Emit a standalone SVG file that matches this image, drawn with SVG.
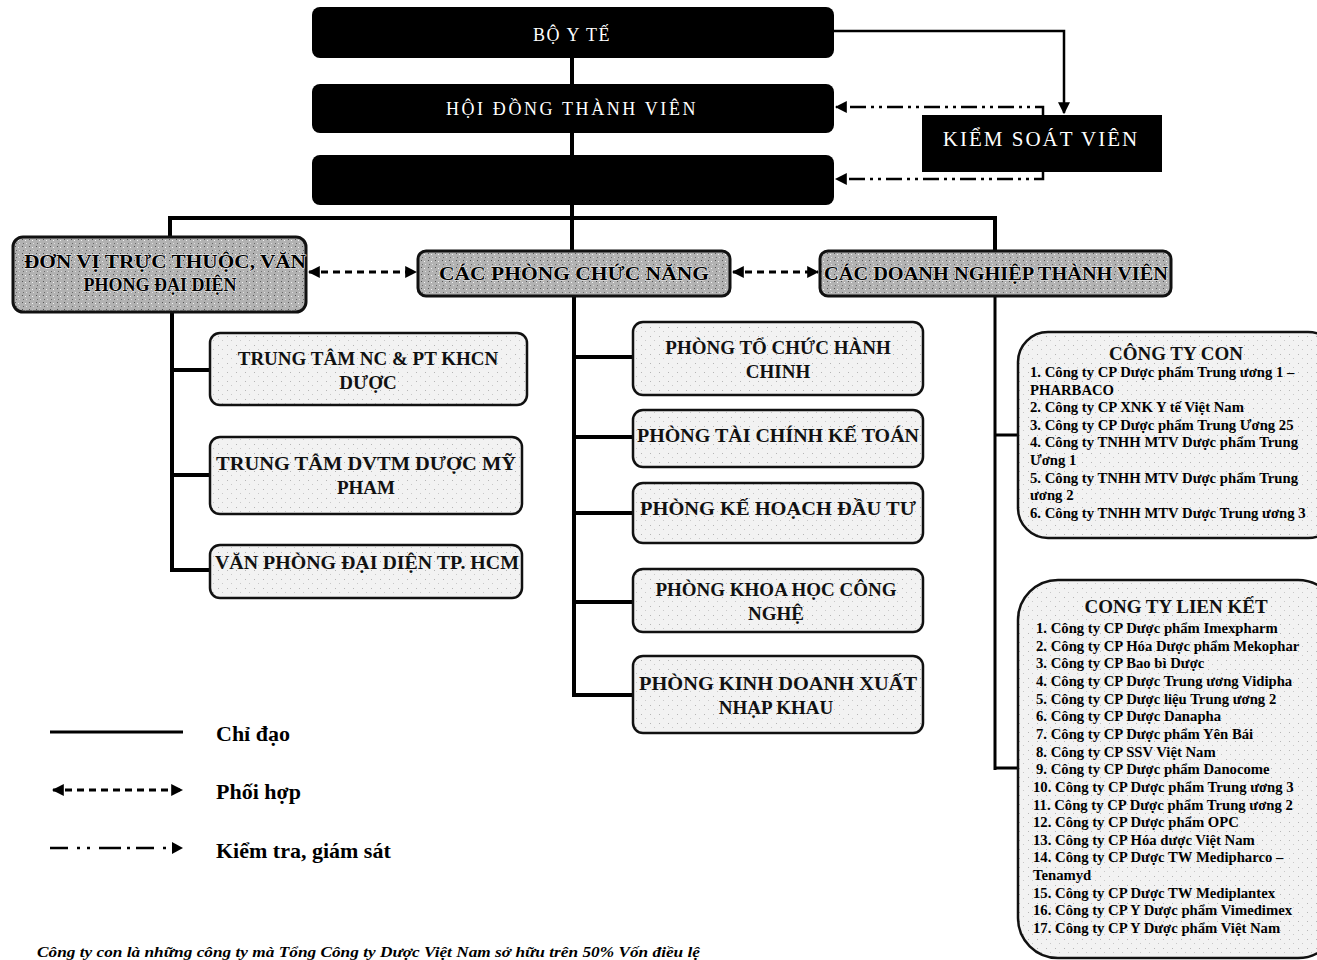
<svg xmlns="http://www.w3.org/2000/svg" width="1317" height="960" viewBox="0 0 1317 960">
<style>
.blk{fill:#000}
.wt{fill:#fff;font-family:"Liberation Serif","DejaVu Serif",serif;font-size:18px;letter-spacing:1.5px;text-anchor:middle}
.hdr{stroke:#111;stroke-width:3;fill:url(#hdrPat)}
.ht{font-family:"Liberation Serif","DejaVu Serif",serif;font-weight:bold;font-size:18px;fill:#000;stroke:#eee;stroke-width:1px;paint-order:stroke;text-anchor:middle}
.chd{stroke:#111;stroke-width:2.5;fill:url(#chdPat)}
.ct{font-family:"Liberation Serif","DejaVu Serif",serif;font-weight:bold;font-size:19px;fill:#111;text-anchor:middle}
.lst{font-family:"Liberation Serif","DejaVu Serif",serif;font-weight:bold;font-size:14.7px;fill:#000}
.ttl{font-family:"Liberation Serif","DejaVu Serif",serif;font-weight:bold;font-size:19px;fill:#111;text-anchor:middle}
.solid{fill:none;stroke:#000;stroke-width:4}
.thin{fill:none;stroke:#000;stroke-width:2.5}
.dash{fill:none;stroke:#000;stroke-width:3;stroke-dasharray:7 5}
.dd{fill:none;stroke:#000;stroke-width:2.5;stroke-dasharray:16 5 3 5 3 5}
.leg{font-family:"Liberation Serif","DejaVu Serif",serif;font-weight:bold;font-size:22px;fill:#000}
</style>
<defs>
<pattern id="hdrPat" width="7" height="7" patternUnits="userSpaceOnUse">
<rect width="7" height="7" fill="#b2b2b2"/>
<rect x="1" y="1" width="1" height="1" fill="#555"/>
<rect x="4" y="2" width="1" height="1" fill="#f4f4f4"/>
<rect x="2" y="5" width="1" height="1" fill="#6a6a6a"/>
<rect x="5" y="5" width="1" height="1" fill="#e0e0e0"/>
</pattern>
<pattern id="chdPat" width="9" height="9" patternUnits="userSpaceOnUse">
<rect width="9" height="9" fill="#f2f2f2"/>
<rect x="2" y="3" width="1" height="1" fill="#b5b5b5"/>
<rect x="6" y="7" width="1" height="1" fill="#c8c8c8"/>
</pattern>
<marker id="tri" viewBox="0 0 10 10" refX="9" refY="5" markerWidth="12" markerHeight="12" markerUnits="userSpaceOnUse" orient="auto-start-reverse">
<path d="M0,0 L10,5 L0,10 z" fill="#000"/>
</marker>
</defs>

<g id="connectors">
<path class="solid" d="M572,58 V84 M572,133 V155 M572,205 V218 M170,218 H996 M170,216 V237 M572,218 V251 M995,216 V251"/>
<path class="solid" d="M172,312 V572 M170,370 H210 M170,475 H210 M170,570 H210"/>
<path class="solid" d="M574,296 V697 M572,357 H633 M572,437 H633 M572,513 H633 M572,602 H633 M572,695 H633"/>
<path class="thin" d="M995,296 V770 M994,435 H1018 M994,768 H1018" style="stroke-width:3"/>
<path class="thin" d="M834,31 H1064 V113" marker-end="url(#tri)"/>
<path class="dd" d="M1043,115 V107 H836" marker-end="url(#tri)"/>
<path class="dd" d="M1043,172 V179 H836" marker-end="url(#tri)"/>
<path class="dash" d="M309,272 H416" marker-start="url(#tri)" marker-end="url(#tri)"/>
<path class="dash" d="M733,272 H818" marker-start="url(#tri)" marker-end="url(#tri)"/>
</g>

<g id="bo-y-te">
<rect class="blk" x="312" y="7" width="522" height="51" rx="8"/>
<text class="wt" x="572" y="41">BỘ Y TẾ</text>
</g>
<g id="hoi-dong-thanh-vien">
<rect class="blk" x="312" y="84" width="522" height="49" rx="8"/>
<text class="wt" x="572" y="115" style="letter-spacing:2.6px">HỘI ĐỒNG THÀNH VIÊN</text>
</g>
<g id="ban-dieu-hanh">
<rect class="blk" x="312" y="155" width="522" height="50" rx="8"/>
</g>
<g id="kiem-soat-vien">
<rect class="blk" x="922" y="115" width="240" height="57"/>
<text class="wt" x="1041" y="146" style="font-size:21px;letter-spacing:2px">KIỂM SOÁT VIÊN</text>
</g>

<g id="don-vi-truc-thuoc">
<rect class="hdr" x="13" y="237" width="293" height="75" rx="10"/>
<text class="ht" x="165" y="268" textLength="282" lengthAdjust="spacingAndGlyphs">ĐƠN VỊ TRỰC THUỘC, VĂN</text>
<text class="ht" x="160" y="291">PHONG ĐẠI DIỆN</text>
</g>
<g id="cac-phong-chuc-nang">
<rect class="hdr" x="418" y="251" width="312" height="45" rx="8"/>
<text class="ht" x="574" y="280" textLength="270" lengthAdjust="spacingAndGlyphs">CÁC PHÒNG CHỨC NĂNG</text>
</g>
<g id="cac-doanh-nghiep">
<rect class="hdr" x="820" y="251" width="351" height="45" rx="8"/>
<text class="ht" x="996" y="280" textLength="344" lengthAdjust="spacingAndGlyphs">CÁC DOANH NGHIỆP THÀNH VIÊN</text>
</g>

<g id="trung-tam-nc">
<rect class="chd" x="210" y="333" width="317" height="72" rx="10"/>
<text class="ct" x="368" y="365">TRUNG TÂM NC &amp; PT KHCN</text>
<text class="ct" x="368" y="389">DƯỢC</text>
</g>
<g id="trung-tam-dvtm">
<rect class="chd" x="210" y="437" width="312" height="77" rx="10"/>
<text class="ct" x="366" y="470" textLength="300" lengthAdjust="spacingAndGlyphs">TRUNG TÂM DVTM DƯỢC MỸ</text>
<text class="ct" x="366" y="494">PHAM</text>
</g>
<g id="van-phong-hcm">
<rect class="chd" x="210" y="545" width="312" height="53" rx="10"/>
<text class="ct" x="367" y="569" textLength="304" lengthAdjust="spacingAndGlyphs">VĂN PHÒNG ĐẠI DIỆN TP. HCM</text>
</g>

<g id="phong-to-chuc">
<rect class="chd" x="633" y="322" width="290" height="73" rx="10"/>
<text class="ct" x="778" y="354">PHÒNG TỔ CHỨC HÀNH</text>
<text class="ct" x="778" y="378">CHINH</text>
</g>
<g id="phong-tai-chinh">
<rect class="chd" x="633" y="410" width="290" height="57" rx="10"/>
<text class="ct" x="778" y="442" textLength="282" lengthAdjust="spacingAndGlyphs">PHÒNG TÀI CHÍNH KẾ TOÁN</text>
</g>
<g id="phong-ke-hoach">
<rect class="chd" x="633" y="483" width="290" height="60" rx="10"/>
<text class="ct" x="778" y="515" textLength="276" lengthAdjust="spacingAndGlyphs">PHÒNG KẾ HOẠCH ĐẦU TƯ</text>
</g>
<g id="phong-khoa-hoc">
<rect class="chd" x="633" y="569" width="290" height="63" rx="10"/>
<text class="ct" x="776" y="596">PHÒNG KHOA HỌC CÔNG</text>
<text class="ct" x="776" y="620">NGHỆ</text>
</g>
<g id="phong-kinh-doanh">
<rect class="chd" x="633" y="656" width="290" height="77" rx="10"/>
<text class="ct" x="778" y="690" textLength="278" lengthAdjust="spacingAndGlyphs">PHÒNG KINH DOANH XUẤT</text>
<text class="ct" x="776" y="714">NHẠP KHAU</text>
</g>

<g id="cong-ty-con">
<rect class="chd" x="1018" y="332" width="320" height="206" rx="30"/>
<text class="ttl" x="1176" y="360">CÔNG TY CON</text>
<text class="lst">
<tspan x="1030" y="377">1. Công ty CP Dược phẩm Trung ương 1 –</tspan>
<tspan x="1030" y="394.6">PHARBACO</tspan>
<tspan x="1030" y="412.2">2. Công ty CP XNK Y tế Việt Nam</tspan>
<tspan x="1030" y="429.8">3. Công ty CP Dược phẩm Trung Ương 25</tspan>
<tspan x="1030" y="447.4">4. Công ty TNHH MTV Dược phẩm Trung</tspan>
<tspan x="1030" y="465">Ương 1</tspan>
<tspan x="1030" y="482.6">5. Công ty TNHH MTV Dược phẩm Trung</tspan>
<tspan x="1030" y="500.2">ương 2</tspan>
<tspan x="1030" y="517.8">6. Công ty TNHH MTV Dược Trung ương 3</tspan>
</text>
</g>

<g id="cong-ty-lien-ket">
<rect class="chd" x="1018" y="580" width="320" height="378" rx="40"/>
<text class="ttl" x="1176" y="613">CONG TY LIEN KẾT</text>
<text class="lst">
<tspan x="1036" y="633">1. Công ty CP Dược phẩm Imexpharm</tspan>
<tspan x="1036" y="650.6">2. Công ty CP Hóa Dược phẩm Mekophar</tspan>
<tspan x="1036" y="668.3">3. Công ty CP Bao bì Dược</tspan>
<tspan x="1036" y="686">4. Công ty CP Dược Trung ương Vidipha</tspan>
<tspan x="1036" y="703.6">5. Công ty CP Dược liệu Trung ương 2</tspan>
<tspan x="1036" y="721.2">6. Công ty CP Dược Danapha</tspan>
<tspan x="1036" y="738.9">7. Công ty CP Dược phẩm Yên Bái</tspan>
<tspan x="1036" y="756.5">8. Công ty CP SSV Việt Nam</tspan>
<tspan x="1036" y="774.2">9. Công ty CP Dược phẩm Danocome</tspan>
<tspan x="1033" y="791.8">10. Công ty CP Dược phẩm Trung ương 3</tspan>
<tspan x="1033" y="809.5">11. Công ty CP Dược phẩm Trung ương 2</tspan>
<tspan x="1033" y="827.1">12. Công ty CP Dược phẩm OPC</tspan>
<tspan x="1033" y="844.8">13. Công ty CP Hóa dược Việt Nam</tspan>
<tspan x="1033" y="862.4">14. Công ty CP Dược TW Medipharco –</tspan>
<tspan x="1033" y="880">Tenamyd</tspan>
<tspan x="1033" y="897.7">15. Công ty CP Dược TW Mediplantex</tspan>
<tspan x="1033" y="915.3">16. Công ty CP Y Dược phẩm Vimedimex</tspan>
<tspan x="1033" y="933">17. Công ty CP Y Dược phẩm Việt Nam</tspan>
</text>
</g>

<g id="legend">
<path class="solid" d="M50,732 H183" style="stroke-width:3"/>
<path class="dash" d="M53,790 H182" marker-start="url(#tri)" marker-end="url(#tri)"/>
<path class="dd" d="M50,848 H181" style="stroke-dasharray:18 9 3 7 3 9 22 6 3 6"/>
<path d="M172,842 L183,848 L172,854 z" fill="#000"/>
<text class="leg" x="216" y="741">Chỉ đạo</text>
<text class="leg" x="216" y="799">Phối hợp</text>
<text class="leg" x="216" y="858">Kiểm tra, giám sát</text>
</g>

<g id="footnote">
<text x="37" y="957" font-family="'Liberation Serif','DejaVu Serif',serif" font-weight="bold" font-style="italic" font-size="14" textLength="663" lengthAdjust="spacingAndGlyphs">Công ty con là những công ty mà Tổng Công ty Dược Việt Nam sở hữu trên 50% Vốn điều lệ</text>
</g>
</svg>
